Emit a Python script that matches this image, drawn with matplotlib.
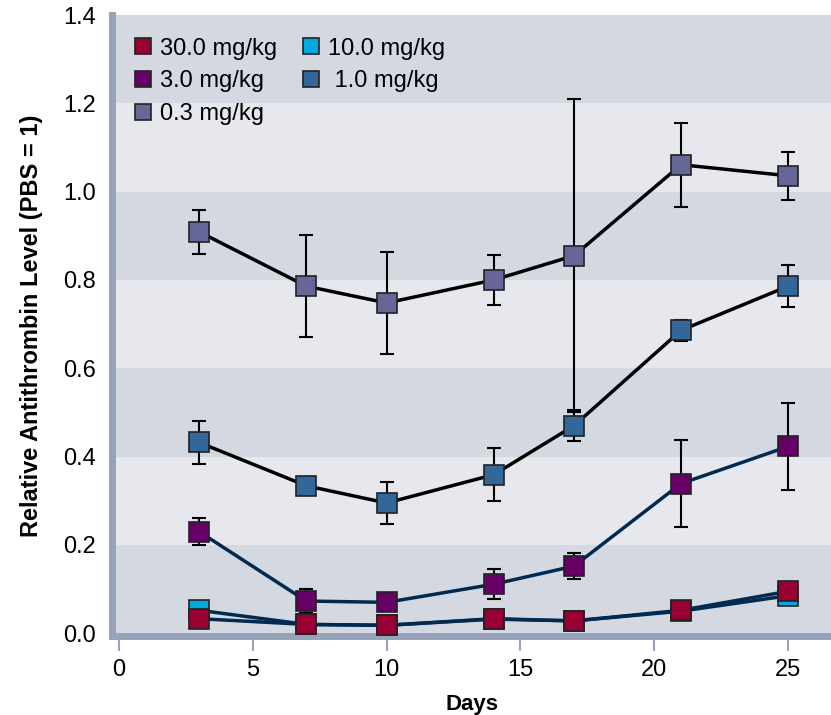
import matplotlib
matplotlib.use("Agg")
import matplotlib.pyplot as plt
from matplotlib.lines import Line2D
from matplotlib import font_manager

plt.rcParams['font.family'] = ['Liberation Sans', 'DejaVu Sans']

# Data
days = [3, 7, 10, 14, 17, 21, 25]

dose_labels = ['30.0 mg/kg', '10.0 mg/kg', '3.0 mg/kg', ' 1.0 mg/kg', '0.3 mg/kg']

y_30 = [0.033, 0.020, 0.018, 0.033, 0.028, 0.052, 0.095]
y_10 = [0.052, 0.020, 0.018, 0.032, 0.028, 0.050, 0.085]
y_3 = [0.230, 0.073, 0.070, 0.111, 0.152, 0.339, 0.423]
y_1 = [0.432, 0.334, 0.295, 0.359, 0.470, 0.686, 0.786]
y_03 = [0.909, 0.786, 0.748, 0.800, 0.855, 1.061, 1.036]

err_3 = [0.030, 0.027, 0.0, 0.034, 0.030, 0.098, 0.099]
err_1 = [0.048, 0.0, 0.047, 0.060, 0.035, 0.024, 0.047]
err_03 = [0.050, 0.115, 0.115, 0.056, 0.354, 0.095, 0.054]

colors = ['#990033', '#00a9e0', '#660066', '#336699', '#666699']

# condensed bold font for axis titles if one is installed
names = {f.name for f in font_manager.fontManager.ttflist}
narrow = [n for n in ['Liberation Sans Narrow', 'DejaVu Sans Condensed'] if n in names]
label_family = narrow + ['Liberation Sans']

fig = plt.figure(figsize=(8.31, 7.15), dpi=100)
ax = fig.add_axes([0.135, 0.11, 0.865, 0.869])

# alternating background bands
band_edges = [0, 0.2, 0.4, 0.6, 0.8, 1.0, 1.2, 1.4]
for i in range(len(band_edges) - 1):
    c = '#d4d8e1' if i % 2 == 0 else '#e7e8ee'
    ax.axhspan(band_edges[i], band_edges[i + 1], color=c, zorder=0, lw=0)

ms = 15
navy = '#002a50'

def draw(y, err, color, linecolor, z):
    ax.plot(days, y, color=linecolor, lw=2.5, zorder=z)
    if err is not None:
        ax.errorbar(days, y, yerr=err, fmt='none', ecolor='black', elinewidth=1.5,
                    capsize=5, capthick=1.5, zorder=z + 0.1)
    ax.plot(days, y, 's', ms=ms, mfc=color, mec='#222222', mew=1.2, zorder=z + 0.2)

draw(y_03, err_03, colors[4], 'black', 3)
draw(y_1, err_1, colors[3], 'black', 4)
draw(y_3, err_3, colors[2], navy, 5)
draw(y_10, None, colors[1], navy, 6)
draw(y_30, None, colors[0], navy, 7)

ax.set_xlim(-0.25, 26.6)
ax.set_ylim(-0.007, 1.4)
ax.set_xticks([0, 5, 10, 15, 20, 25])
ax.set_yticks([0.0, 0.2, 0.4, 0.6, 0.8, 1.0, 1.2, 1.4])
ax.set_yticklabels(['0.0', '0.2', '0.4', '0.6', '0.8', '1.0', '1.2', '1.4'])

for s in ['top', 'right']:
    ax.spines[s].set_visible(False)
for s in ['left', 'bottom']:
    ax.spines[s].set_color('#96a3ba')
    ax.spines[s].set_linewidth(5)
ax.tick_params(axis='x', length=11, width=1.5, color='#96a3ba', labelsize=17, pad=5)
ax.tick_params(axis='y', length=0, labelsize=17, pad=12)

ax.set_xlabel('Days', fontsize=16, fontweight='bold', family=label_family, labelpad=10)
ax.set_ylabel('Relative Antithrombin Level (PBS = 1)', fontsize=17, fontweight='bold',
              family=label_family, labelpad=14)

handles = [Line2D([], [], ls='none', marker='s', ms=12, mfc=c, mec='#222222', mew=1.2)
           for c in colors]
leg = ax.legend([handles[i] for i in [0, 2, 4, 1, 3]],
                [dose_labels[i] for i in [0, 2, 4, 1, 3]],
                ncol=2, loc='upper left', frameon=False, fontsize=17,
                handlelength=0.8, handletextpad=0.3, columnspacing=1.05,
                labelspacing=0.45, borderaxespad=0.3, bbox_to_anchor=(0.007, 0.99))

fig.savefig('out.png', dpi=100)
